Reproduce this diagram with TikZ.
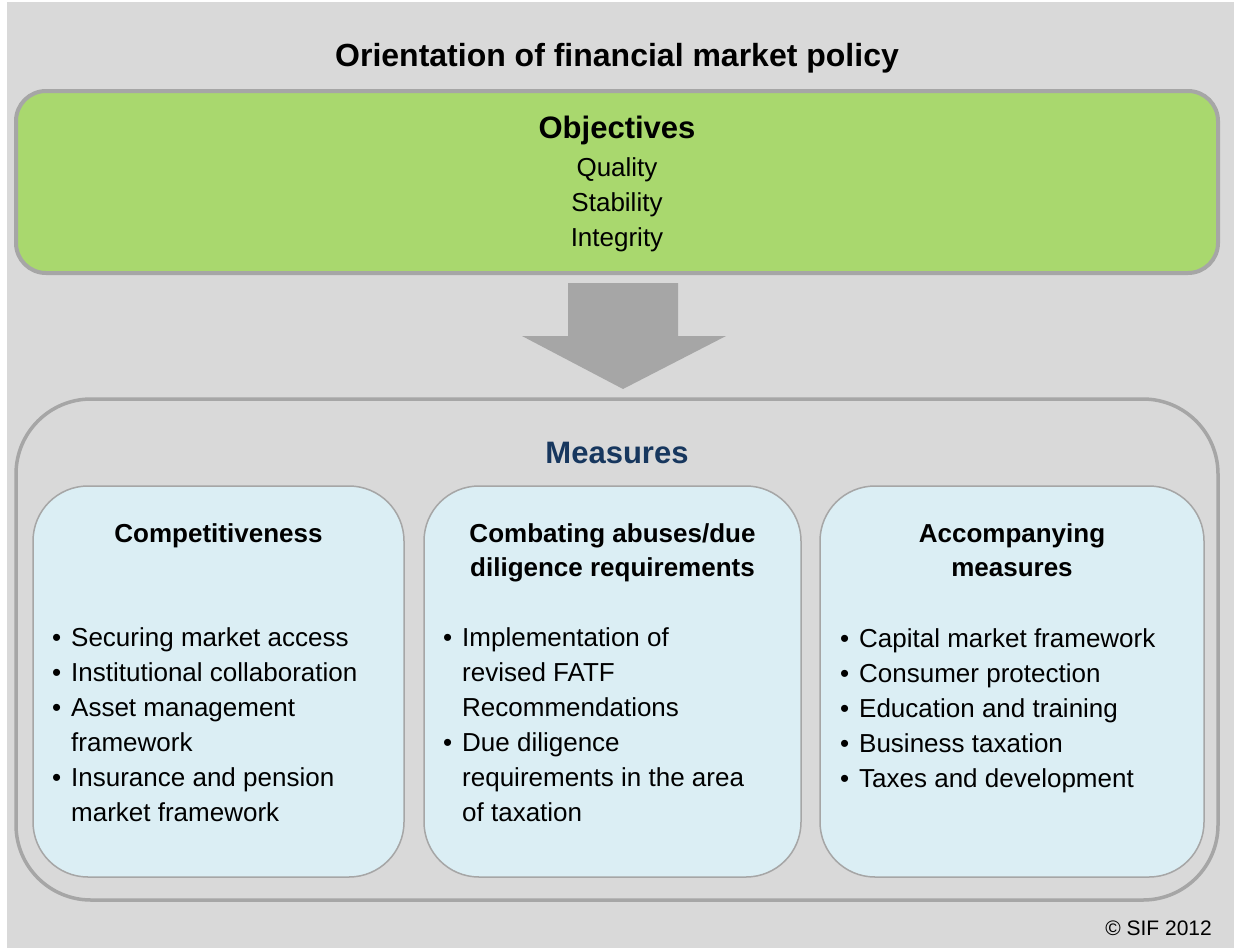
\documentclass[tikz,border=0pt]{standalone}
\usepackage{fontspec}
\setmainfont{Liberation Sans}
\definecolor{PageGray}{HTML}{D9D9D9}
\definecolor{FrameGray}{HTML}{A6A6A6}
\definecolor{ObjGreen}{HTML}{A9D86E}
\definecolor{PaleBlue}{HTML}{DBEEF4}
\definecolor{NavyText}{HTML}{17375E}
\tikzset{
	objbox/.style={draw=FrameGray, line width=4pt, fill=ObjGreen, rounded corners=30pt},
	measbox/.style={draw=FrameGray, line width=3.5pt, rounded corners=75pt},
	colbox/.style={draw=FrameGray, line width=1.5pt, fill=PaleBlue, rounded corners=55pt, minimum height=391pt},
	coltitle/.style={anchor=base, inner sep=0pt, font=\bfseries\fontsize{26}{34}\selectfont},
	collist/.style={anchor=base west, inner sep=0pt, font=\fontsize{26}{35}\selectfont},
}
\newcommand{\bulletrows}[1]{\begin{tabular}[t]{@{}p{19pt}@{}l@{}}#1\end{tabular}}
\newcommand{\titlerows}[1]{\begin{tabular}[t]{@{}c@{}}#1\end{tabular}}

\begin{document}
\begin{tikzpicture}[x=1pt,y=-1pt]
	\useasboundingbox (0,0) rectangle (1234,948);
	\fill[white] (0,0) rectangle (1234,948);
	\fill[PageGray] (7,2) rectangle (1234,948);

	\node[anchor=base, inner sep=0pt, font=\bfseries\fontsize{32}{38}\selectfont] (heading) at (617,66) {Orientation of financial market policy};

	% Objectives panel
	\node[objbox, minimum width=1202pt, minimum height=182pt] (objectives) at (617,182) {};
	\node[anchor=base, inner sep=0pt, font=\bfseries\fontsize{31}{36}\selectfont] (objtitle) at (617,138) {Objectives};
	\node[anchor=base, inner sep=0pt, font=\fontsize{26}{35}\selectfont] (objlist) at (617,176) {\titlerows{Quality\\Stability\\Integrity}};

	% Block arrow down to the measures
	\fill[FrameGray] (568,283) -- (678,283) -- (678,336) -- (726,336) -- (623,389) -- (522,336) -- (568,336) -- cycle;

	% Measures frame
	\node[measbox, minimum width=1202pt, minimum height=501pt] (measures) at (617,649.5) {};
	\node[anchor=base, inner sep=0pt, text=NavyText, font=\bfseries\fontsize{31}{36}\selectfont] (meastitle) at (617,463) {Measures};

	% Three columns
	\node[colbox, minimum width=371pt] (compet) at (218.5,681.5) {};
	\node[colbox, minimum width=377pt] (abuses) at (612.5,681.5) {};
	\node[colbox, minimum width=384pt] (accomp) at (1012,681.5) {};

	\node[coltitle] (competT) at (218.5,542) {Competitiveness};
	\node[coltitle] (abusesT) at (612.5,542) {\titlerows{Combating abuses/due\\diligence requirements}};
	\node[coltitle] (accompT) at (1012,542) {\titlerows{Accompanying\\measures}};

	\node[collist] (competL) at (52,646) {\bulletrows{%
		\textbullet & Securing market access\\
		\textbullet & Institutional collaboration\\
		\textbullet & Asset management\\
		& framework\\
		\textbullet & Insurance and pension\\
		& market framework}};
	\node[collist] (abusesL) at (443,646) {\bulletrows{%
		\textbullet & Implementation of\\
		& revised FATF\\
		& Recommendations\\
		\textbullet & Due diligence\\
		& requirements in the area\\
		& of taxation}};
	\node[collist] (accompL) at (840,647) {\bulletrows{%
		\textbullet & Capital market framework\\
		\textbullet & Consumer protection\\
		\textbullet & Education and training\\
		\textbullet & Business taxation\\
		\textbullet & Taxes and development}};

	\node[anchor=base east, inner sep=0pt, font=\fontsize{21}{24}\selectfont] (credit) at (1212,935) {© SIF 2012};
\end{tikzpicture}
\end{document}
